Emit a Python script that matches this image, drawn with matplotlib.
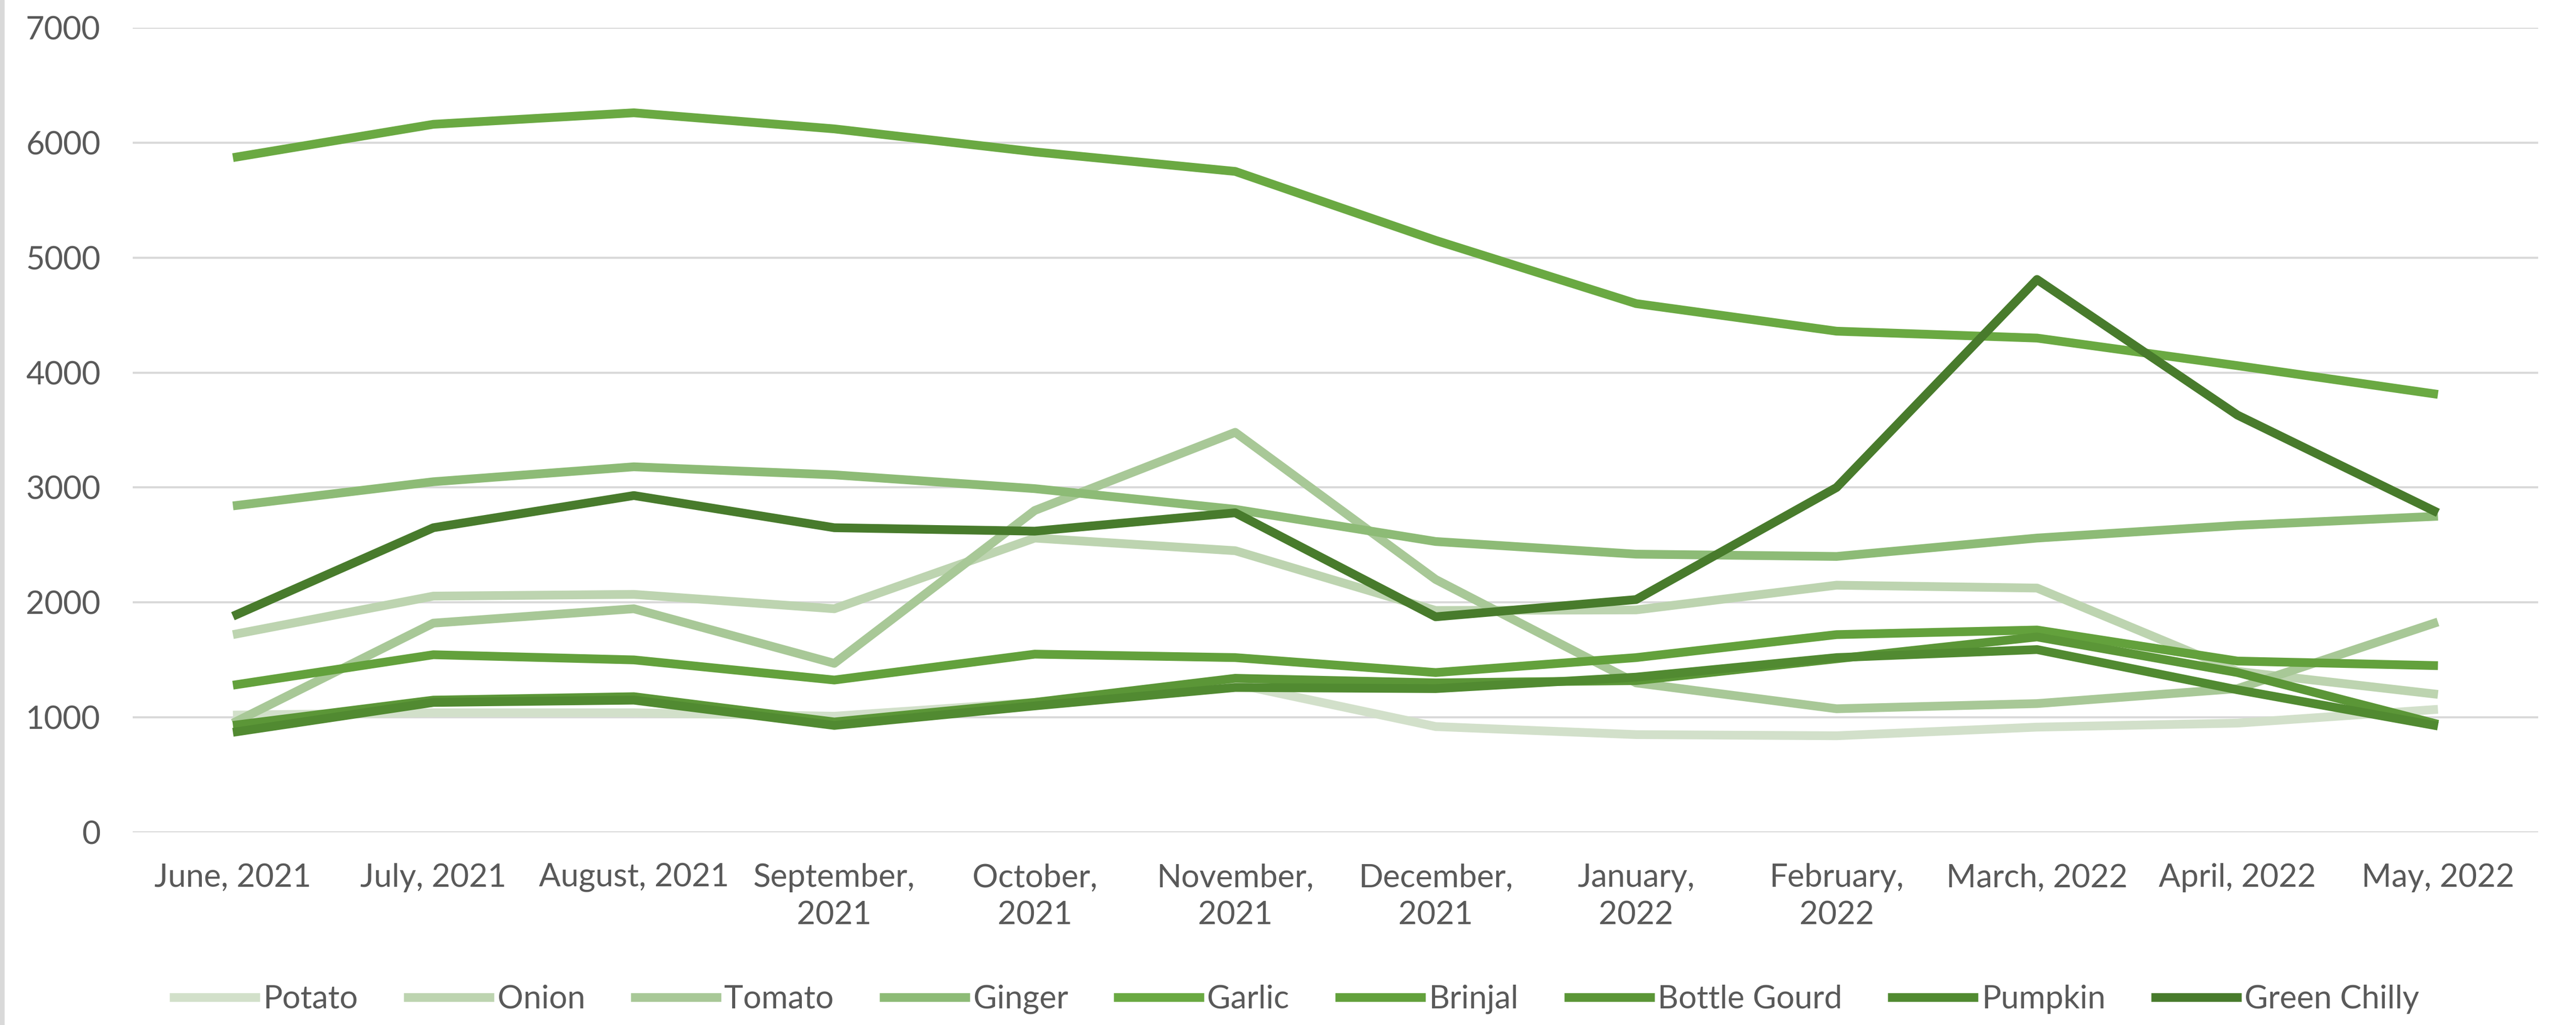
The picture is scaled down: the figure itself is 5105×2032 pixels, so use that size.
import matplotlib
matplotlib.use("Agg")
import matplotlib.pyplot as plt
from matplotlib.patches import Rectangle

plt.rcParams['font.family'] = ['Lato', 'DejaVu Sans']

# Months (x categories)
months = ['June, 2021', 'July, 2021', 'August, 2021', 'September,\n2021',
          'October,\n2021', 'November,\n2021', 'December,\n2021', 'January,\n2022',
          'February,\n2022', 'March, 2022', 'April, 2022', 'May, 2022']

# Series values
potato = [1020, 1040, 1040, 1010, 1130, 1290, 920, 850, 840, 915, 950, 1070]
onion = [1720, 2055, 2070, 1945, 2560, 2450, 1930, 1935, 2150, 2125, 1400, 1200]
tomato = [950, 1820, 1945, 1470, 2800, 3480, 2200, 1300, 1075, 1120, 1250, 1830]
ginger = [2840, 3050, 3180, 3110, 2990, 2810, 2530, 2420, 2400, 2560, 2670, 2750]
garlic = [5870, 6160, 6260, 6120, 5920, 5750, 5150, 4600, 4360, 4300, 4060, 3810]
brinjal = [1280, 1545, 1500, 1325, 1550, 1520, 1390, 1520, 1720, 1760, 1490, 1450]
bottle_gourd = [930, 1150, 1180, 960, 1130, 1340, 1300, 1320, 1510, 1700, 1390, 940]
pumpkin = [870, 1130, 1150, 930, 1100, 1260, 1250, 1350, 1520, 1590, 1240, 925]
green_chilly = [1880, 2650, 2930, 2650, 2620, 2780, 1875, 2025, 3000, 4810, 3630, 2780]

names = ['Potato', 'Onion', 'Tomato', 'Ginger', 'Garlic', 'Brinjal',
         'Bottle Gourd', 'Pumpkin', 'Green Chilly']
series = [potato, onion, tomato, ginger, garlic, brinjal,
          bottle_gourd, pumpkin, green_chilly]
colors = ['#d2e0ca', '#bdd4b0', '#a8c897', '#8dbb76', '#6aa942',
          '#63a13c', '#5b9637', '#518a31', '#487b2c']

text_grey = '#595959'
grid_grey = '#d9d9d9'

fig = plt.figure(figsize=(51.05, 20.32), dpi=100)
ax = fig.add_axes([263 / 5105, 382 / 2032, (5030 - 263) / 5105, (1650 - 55) / 2032])

x = list(range(len(months)))
lines = []
for name, vals, c in zip(names, series, colors):
    ln, = ax.plot(x, vals, color=c, linewidth=12.5, label=name,
                  solid_joinstyle='round', solid_capstyle='butt')
    lines.append(ln)

ax.set_xlim(-0.5, len(months) - 0.5)
ax.set_ylim(0, 7000)
ax.set_yticks(range(0, 7001, 1000))
ax.set_xticks(x)
ax.set_xticklabels(months, linespacing=1.35)

ax.grid(axis='y', color=grid_grey, linewidth=3)
ax.set_axisbelow(True)
for s in ax.spines.values():
    s.set_visible(False)
ax.tick_params(axis='both', length=0, labelsize=46, labelcolor=text_grey)
ax.tick_params(axis='y', pad=46)
ax.tick_params(axis='x', pad=44)

# light grey strip on the left edge of the image
fig.patches.append(Rectangle((0, 0), 8 / 5105, 1, transform=fig.transFigure,
                             color=grid_grey, zorder=0))

fig.legend(lines, names, loc='center', bbox_to_anchor=(0.5025, 0.025),
           ncol=9, frameon=False, handlelength=2.8, handletextpad=0.1,
           columnspacing=1.42, fontsize=46, labelcolor=text_grey)

fig.savefig('out.png', dpi=100)
